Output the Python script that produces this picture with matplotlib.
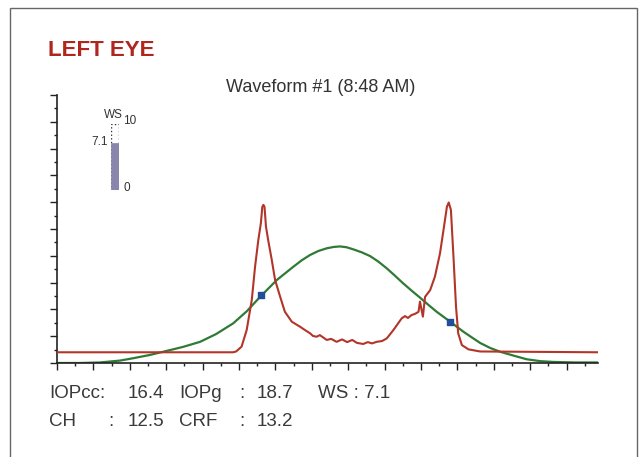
import matplotlib
matplotlib.use('Agg')
import matplotlib.pyplot as plt
from matplotlib.patches import Rectangle
from matplotlib.ticker import MultipleLocator

plt.rcParams['font.family'] = ['Liberation Sans', 'DejaVu Sans']

# Applanation signal (red)
red_x = [0.00, 4.84, 4.92, 5.07, 5.21, 5.35, 5.44, 5.53, 5.60, 5.64, 5.67, 5.70, 5.74, 5.80,
         5.90, 5.99, 6.13, 6.26, 6.45, 6.68, 6.81, 6.95, 7.03, 7.13, 7.22, 7.41, 7.53, 7.68,
         7.83, 7.97, 8.11, 8.24, 8.41, 8.54, 8.65, 8.78, 8.93, 9.06, 9.24, 9.47, 9.56, 9.64,
         9.74, 9.83, 9.93, 9.97, 10.05, 10.11, 10.25, 10.38, 10.52, 10.63, 10.71, 10.76,
         10.82, 10.89, 10.96, 11.02, 11.12, 11.30, 11.62, 14.86]
red_y = [0.40, 0.40, 0.43, 0.61, 1.23, 2.35, 3.59, 4.59, 5.22, 5.83, 5.90, 5.83, 5.09, 4.59,
         3.84, 3.10, 2.47, 1.91, 1.54, 1.35, 1.23, 1.11, 1.01, 0.98, 1.04, 0.86, 0.90, 0.79,
         0.88, 0.78, 0.86, 0.75, 0.71, 0.78, 0.73, 0.79, 0.82, 0.92, 1.23, 1.67, 1.75, 1.68,
         1.79, 1.83, 1.91, 2.29, 1.73, 2.47, 2.72, 3.22, 4.09, 5.09, 5.83, 5.99,
         5.71, 3.97, 2.10, 1.11, 0.67, 0.51, 0.43, 0.40]

# Pressure curve (green)
green_x = [0.00, 0.63, 1.18, 1.73, 2.10, 2.55, 3.01, 3.46, 3.93, 4.37, 4.84, 5.22, 5.58, 6.04,
           6.49, 6.72, 6.95, 7.18, 7.41, 7.60, 7.77, 7.95, 8.14, 8.37, 8.60, 8.83, 9.06, 9.28,
           9.51, 9.74, 9.97, 10.20, 10.43, 10.80, 11.16, 11.40, 11.62, 11.90, 12.17, 12.58,
           12.90, 13.27, 13.63, 14.23, 14.86]
green_y = [0.00, 0.00, 0.02, 0.09, 0.18, 0.30, 0.45, 0.60, 0.79, 1.08, 1.48, 1.94, 2.47, 3.10,
           3.59, 3.83, 4.03, 4.18, 4.28, 4.33, 4.35, 4.32, 4.24, 4.13, 3.99, 3.78, 3.53, 3.26,
           2.97, 2.70, 2.44, 2.17, 1.91, 1.54, 1.17, 0.95, 0.75, 0.56, 0.42, 0.26,
           0.14, 0.07, 0.04, 0.02, 0.02]

# Applanation points (blue squares)
p1_x, p1_y = [5.60, 10.80], [2.54, 1.54]

ws_value = 7.1
ws_max = 10

row1 = ['IOPcc:', '16.4', 'IOPg', ':', '18.7']
row2 = ['CH', ':', '12.5', 'CRF', ':', '13.2']
ws_text = 'WS : 7.1'

fig = plt.figure(figsize=(6.4, 4.57), dpi=100)

# outer frame of the print-out
fig.patches.append(Rectangle((10/640, -0.02), 627/640, 1.02 - 8/457, transform=fig.transFigure,
                             fill=False, edgecolor='#666666', lw=1.0))

fig.text(48/640, 1 - 50/457, 'LEFT EYE', color='#b0261f', fontsize=16, fontweight='bold',
         va='center', ha='left')
fig.text(321/640, 1 - 87/457, 'Waveform #1 (8:48 AM)', fontsize=13, color='#333333',
         ha='center', va='center')

ax = fig.add_axes([57/640, 1 - 363/457, 541/640, 268/457])
ax.plot(green_x, green_y, color='#2f7a34', lw=1.6, zorder=2)
ax.plot(red_x, red_y, color='#b3352a', lw=1.5, zorder=3)
ax.scatter(p1_x, p1_y, marker='s', s=22, color='#1f4f9a', zorder=4)

ax.set_xlim(0, 14.86)
ax.set_ylim(0, 10)
ax.xaxis.set_major_locator(MultipleLocator(1))
ax.xaxis.set_minor_locator(MultipleLocator(0.5))
ax.yaxis.set_major_locator(MultipleLocator(1))
ax.yaxis.set_minor_locator(MultipleLocator(0.5))
ax.tick_params(which='major', length=5, width=1, color='#222222', labelbottom=False, labelleft=False)
ax.tick_params(which='minor', length=2.5, width=1, color='#222222')
for s in ['top', 'right']:
    ax.spines[s].set_visible(False)
for s in ['left', 'bottom']:
    ax.spines[s].set_color('#222222')
    ax.spines[s].set_linewidth(1.2)

# WS gauge
gx = fig.add_axes([111/640, 1 - 190/457, 8/640, 66/457])
gx.bar([0], [ws_max], width=1, color='white', edgecolor='#333333', linestyle=':', lw=1)
gx.bar([0], [ws_value], width=1, color='#8a85ad', edgecolor='#8a85ad', lw=0.5)
gx.set_xlim(-0.5, 0.5)
gx.set_ylim(0, ws_max)
gx.axis('off')
fig.text(113/640, 1 - 115/457, 'WS', fontsize=8.5, ha='center', va='center', color='#333333')
fig.text(123/640, 1 - 121/457, str(ws_max), fontsize=8.5, ha='left', va='center', color='#333333')
fig.text(108/640, 1 - 142/457, str(ws_value), fontsize=8.5, ha='right', va='center', color='#333333')
fig.text(123/640, 1 - 188/457, '0', fontsize=8.5, ha='left', va='center', color='#333333')

# values below the chart
col1 = [49, 128, 179, 239, 257]
for x, t in zip(col1, row1):
    fig.text(x/640, 1 - 393/457, t, fontsize=13.5, ha='left', va='center', color='#3a3a3a')
fig.text(318/640, 1 - 393/457, ws_text, fontsize=13.5, ha='left', va='center', color='#3a3a3a')
col2 = [49, 108, 128, 179, 239, 257]
for x, t in zip(col2, row2):
    fig.text(x/640, 1 - 421/457, t, fontsize=13.5, ha='left', va='center', color='#3a3a3a')

fig.savefig('out.png', dpi=100)
